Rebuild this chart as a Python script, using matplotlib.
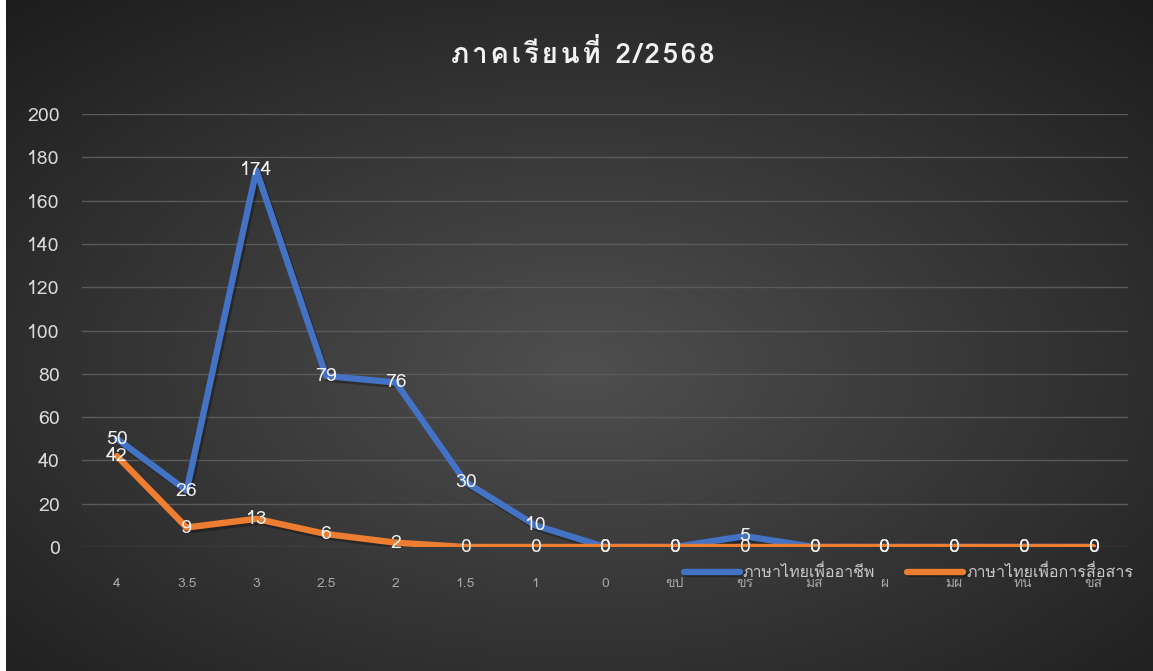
import unicodedata
import numpy as np
import matplotlib
matplotlib.use("Agg")
import matplotlib.pyplot as plt
import matplotlib.patheffects as pe
from matplotlib import font_manager

# grade categories and counts
categories = ["4", "3.5", "3", "2.5", "2", "1.5", "1", "0",
              "ขป", "ขร", "มส", "ผ", "มผ", "ทน", "ขส"]
career = [50, 26, 174, 79, 76, 30, 10, 0, 0, 5, 0, 0, 0, 0, 0]
comm = [42, 9, 13, 6, 2, 0, 0, 0, 0, 0, 0, 0, 0, 0, 0]
series_names = ["ภาษาไทยเพื่ออาชีพ", "ภาษาไทยเพื่อการสื่อสาร"]
title = "ภาคเรียนที่ 2/2568"


def find_thai_font():
    try:
        from fontTools.ttLib import TTFont
    except ImportError:
        return None
    for f in font_manager.fontManager.ttflist:
        try:
            tt = TTFont(f.fname, fontNumber=0, lazy=True)
            cmap = tt.getBestCmap()
            if cmap and 0x0E20 in cmap:
                return f.name
        except Exception:
            continue
    return None


def spaced(s, gap="\u200a"):
    # letter-spacing that keeps Thai marks on their base letter
    clusters = []
    for ch in s:
        if clusters and unicodedata.category(ch) == "Mn":
            clusters[-1] += ch
        else:
            clusters.append(ch)
    return gap.join(clusters)


thai = find_thai_font()
fams = [thai, "DejaVu Sans"] if thai else ["DejaVu Sans"]
plt.rcParams["font.family"] = fams

fig = plt.figure(figsize=(11.53, 6.71), dpi=100)
fig.patch.set_facecolor("white")

# dark radial background
bg = fig.add_axes([6 / 1153, 0, 1 - 6 / 1153, 1])
yy, xx = np.mgrid[0:1:300j, 0:1:500j]
r = np.sqrt(((xx - 0.5) / 0.75) ** 2 + ((yy - 0.55) / 0.75) ** 2)
shade = np.clip(0.31 - 0.2 * r, 0.11, 0.31)
bg.imshow(np.dstack([shade] * 3), aspect="auto", extent=[0, 1, 0, 1])
bg.set_axis_off()
bg.set_zorder(-5)

ax = fig.add_axes([82 / 1153, 124 / 671, 1046 / 1153, 433 / 671])
ax.patch.set_alpha(0)
x = np.arange(len(categories))

shadow = [pe.SimpleLineShadow(offset=(1.5, -2), shadow_color="black", alpha=0.3), pe.Normal()]
ax.plot(x, career, color="#4472C4", lw=4.6, label=series_names[0],
        solid_joinstyle="round", solid_capstyle="round", path_effects=shadow, zorder=3)
ax.plot(x, comm, color="#ED7D31", lw=4.6, label=series_names[1],
        solid_joinstyle="round", solid_capstyle="round", path_effects=shadow, zorder=4)

for xi, v in zip(x, career):
    ax.text(xi, v, str(v), ha="center", va="center", color="#f0f0f0", fontsize=14, zorder=6)
for xi, v in zip(x, comm):
    ax.text(xi, v, str(v), ha="center", va="center", color="#f0f0f0", fontsize=14, zorder=6)

ax.set_xlim(-0.5, len(categories) - 0.5)
ax.set_ylim(0, 200)
ax.set_yticks(range(0, 201, 20))
ax.set_xticks(x)
ax.set_xticklabels(categories)
ax.tick_params(axis="y", colors="#d9d9d9", labelsize=14, length=0, pad=16)
ax.tick_params(axis="x", colors="#a6a6a6", labelsize=10, length=0, pad=22)
ax.grid(axis="y", color="#5a5a5a", lw=1)
ax.set_axisbelow(True)
for s in ax.spines.values():
    s.set_visible(False)

fig.text(0.505, 0.921, spaced(title), ha="center", va="center", color="#f2f2f2",
         fontsize=20, fontweight="bold")

leg = fig.legend(loc="center", bbox_to_anchor=(0.788, 0.146), ncol=2, frameon=False,
                 fontsize=11.5, handlelength=3.5, columnspacing=2.0, handletextpad=0.2)
for t in leg.get_texts():
    t.set_color("#c8c8c8")

fig.savefig("out.png", dpi=100, facecolor=fig.get_facecolor())
